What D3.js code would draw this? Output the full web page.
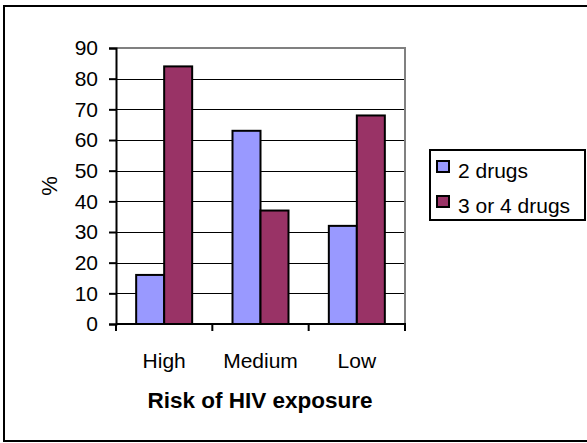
<!DOCTYPE html>
<html>
<head>
<meta charset="utf-8">
<script src="https://cdn.jsdelivr.net/npm/d3@7"></script>
<style>
  html, body { margin: 0; padding: 0; background: #fff; }
  svg { display: block; font-family: "Liberation Sans", Arial, sans-serif; }
</style>
</head>
<body>
<svg id="chart" width="587" height="443"></svg>
<script>
// Share of patients by number of drugs, grouped by risk of HIV exposure
const categories = ["High", "Medium", "Low"];
const seriesNames = ["2 drugs", "3 or 4 drugs"];
const twoDrugs = [16, 63, 32];
const threeOrFourDrugs = [84, 37, 68];
const yTicks = [0, 10, 20, 30, 40, 50, 60, 70, 80, 90];
const colors = ["#9999FF", "#993366"];

const svg = d3.select("#chart");

// Outer chart frame
svg.append("rect")
  .attr("x", 4).attr("y", 6).attr("width", 600).attr("height", 435)
  .attr("fill", "none").attr("stroke", "#000").attr("stroke-width", 2);

const plot = { left: 116, right: 405, top: 48, bottom: 324 };

const x = d3.scaleBand().domain(categories).range([plot.left, plot.right]).padding(0);
const y = d3.scaleLinear().domain([0, 90]).range([plot.bottom, plot.top]);
const barW = 28;

// Horizontal gridlines
svg.append("g").selectAll("line")
  .data(yTicks.filter(t => t > 0 && t < 90))
  .join("line")
  .attr("x1", plot.left).attr("x2", plot.right)
  .attr("y1", d => Math.round(y(d)) + 0.5).attr("y2", d => Math.round(y(d)) + 0.5)
  .attr("stroke", "#000").attr("stroke-width", 1);

// Plot area border (top and right) in grey
svg.append("path")
  .attr("d", `M${plot.left},${y(90)}H${plot.right}V${plot.bottom}`)
  .attr("fill", "none").attr("stroke", "#808080").attr("stroke-width", 2);

// Bars
const series = [twoDrugs, threeOrFourDrugs];
series.forEach((vals, si) => {
  svg.append("g").selectAll("rect")
    .data(categories.map((c, i) => ({ c, v: vals[i] })))
    .join("rect")
    .attr("x", d => x(d.c) + x.bandwidth() / 2 - barW + si * barW)
    .attr("y", d => y(d.v))
    .attr("width", barW)
    .attr("height", d => y(0) - y(d.v))
    .attr("fill", colors[si])
    .attr("stroke", "#000").attr("stroke-width", 2);
});

// Y axis
const yAxis = svg.append("g")
  .attr("transform", `translate(${plot.left},0)`)
  .call(d3.axisLeft(y).tickValues(yTicks).tickSize(7).tickPadding(11));
yAxis.select(".domain").attr("stroke-width", 2);
yAxis.selectAll(".tick line").attr("stroke-width", 2);
yAxis.selectAll("text").attr("font-size", 21).attr("font-family", "Liberation Sans, Arial, sans-serif").attr("fill", "#000");

// X axis with ticks at category boundaries
const xAxis = svg.append("g")
  .attr("transform", `translate(0,${plot.bottom})`);
xAxis.append("line")
  .attr("x1", plot.left).attr("x2", plot.right + 1)
  .attr("y1", 0).attr("y2", 0)
  .attr("stroke", "#000").attr("stroke-width", 2);
const boundaries = categories.map(c => x(c)).concat([x(categories[categories.length - 1]) + x.bandwidth()]);
xAxis.selectAll(".bt")
  .data(boundaries)
  .join("line")
  .attr("class", "bt")
  .attr("x1", d => d).attr("x2", d => d)
  .attr("y1", 0).attr("y2", 7)
  .attr("stroke", "#000").attr("stroke-width", 2);
xAxis.selectAll(".cl")
  .data(categories)
  .join("text")
  .attr("class", "cl")
  .attr("x", d => x(d) + x.bandwidth() / 2)
  .attr("y", 44)
  .attr("text-anchor", "middle")
  .attr("font-size", 21)
  .text(d => d);

// Axis titles
svg.append("text")
  .attr("x", 260).attr("y", 408)
  .attr("text-anchor", "middle")
  .attr("font-size", 22.5).attr("font-weight", "bold")
  .text("Risk of HIV exposure");

svg.append("text")
  .attr("transform", "translate(57,186) rotate(-90)")
  .attr("text-anchor", "middle")
  .attr("font-size", 22)
  .text("%");

// Legend
const legend = svg.append("g");
legend.append("rect")
  .attr("x", 430).attr("y", 150).attr("width", 155).attr("height", 70)
  .attr("fill", "#fff").attr("stroke", "#000").attr("stroke-width", 2);
const items = legend.selectAll(".item")
  .data(seriesNames)
  .join("g")
  .attr("class", "item")
  .attr("transform", (d, i) => `translate(0,${i * 35})`);
items.append("rect")
  .attr("x", 437).attr("y", 161).attr("width", 12).attr("height", 11)
  .attr("fill", (d, i) => colors[i]).attr("stroke", "#000").attr("stroke-width", 2);
items.append("text")
  .attr("x", 458).attr("y", 178)
  .attr("font-size", 21)
  .text(d => d);
</script>
</body>
</html>
